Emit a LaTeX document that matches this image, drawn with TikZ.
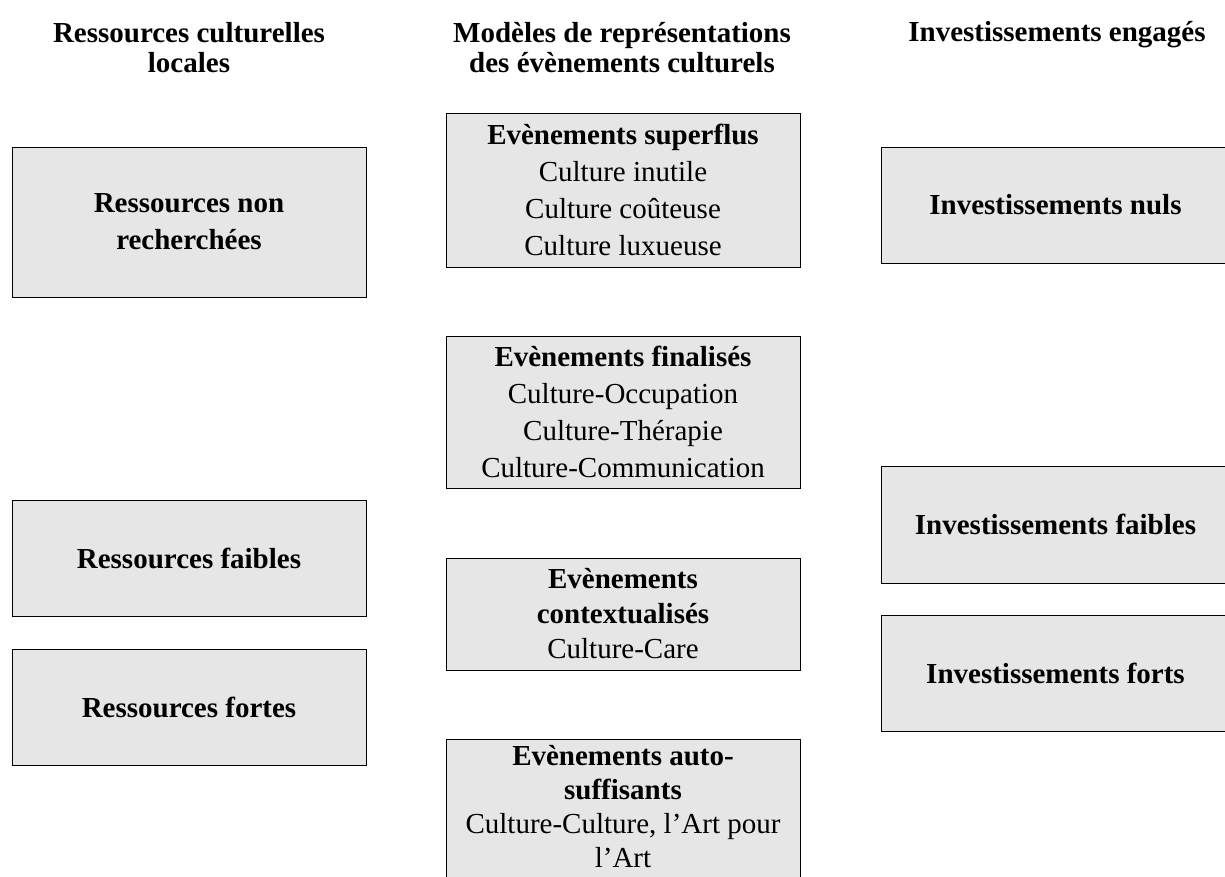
\documentclass[tikz,border=0pt]{standalone}
\usepackage{fontspec}
\setmainfont{Liberation Serif}
\usepackage{xcolor}
\definecolor{Box Gray}{HTML}{E6E6E6}
\colorlet{cGray}{Box Gray}
\usepackage{tikz}
\usetikzlibrary{positioning}
\tikzset{
	node distance = 69pt,
	line width = 2.3pt,
	font = \fontsize{29}{37}\selectfont,
	head/.style={
		align=center,
		font=\fontsize{29}{30}\selectfont\bfseries
	},
	box/.style={
		draw,
		fill=cGray,
		align=center,
		inner sep=0pt,
		minimum width=354pt
	},
	sidebox/.style={
		box,
		font=\fontsize{29}{37}\selectfont\bfseries
	}
}

\begin{document}
\begin{tikzpicture}[x=1pt,y=-1pt]
        \useasboundingbox (0,0) rectangle (1225,877);
        % column heads
        \node[head] (hres) at (189,48) {Ressources culturelles\\locales};
        \node[head] (hmod) at (622,48) {Modèles de représentations\\des évènements culturels};
        \node[head] (hinv) at (1057,35) {Investissements engagés};
        % left column
        \node[sidebox, minimum height=150pt] (rnon) at (189,222) {Ressources non\\recherchées};
        \node[sidebox, minimum height=116pt] (rfaib) at (189,558) {Ressources faibles};
        \node[sidebox, minimum height=116pt, below=33pt of rfaib] (rfort) {Ressources fortes};
        % middle column
        \node[box, minimum height=154pt] (esup) at (623,190) {\textbf{Evènements superflus}\\Culture inutile\\Culture coûteuse\\Culture luxueuse};
        \node[box, minimum height=152pt, below=of esup] (efin) {\textbf{Evènements finalisés}\\Culture-Occupation\\Culture-Thérapie\\Culture-Communication};
        \node[box, minimum height=112pt, below=of efin, font=\fontsize{29}{35}\selectfont] (ectx) {\textbf{Evènements}\\\textbf{contextualisés}\\Culture-Care};
        \node[box, minimum height=170pt, below=of ectx] (eaut) {};
        \node[anchor=north, align=center, inner sep=0pt, font=\fontsize{29}{34}\selectfont] (eauttxt) at ([yshift=-6pt]eaut.north) {\textbf{Evènements auto-}\\\textbf{suffisants}\\Culture-Culture, l'Art pour\\l'Art};
        % right column
        \node[sidebox, minimum width=349pt, minimum height=116pt] (inul) at (1055.5,205) {Investissements nuls};
        \node[sidebox, minimum width=349pt, minimum height=117pt] (ifaib) at (1055.5,524.5) {Investissements faibles};
        \node[sidebox, minimum width=349pt, minimum height=116pt, below=32pt of ifaib] (ifort) {Investissements forts};
    \end{tikzpicture}
\end{document}
